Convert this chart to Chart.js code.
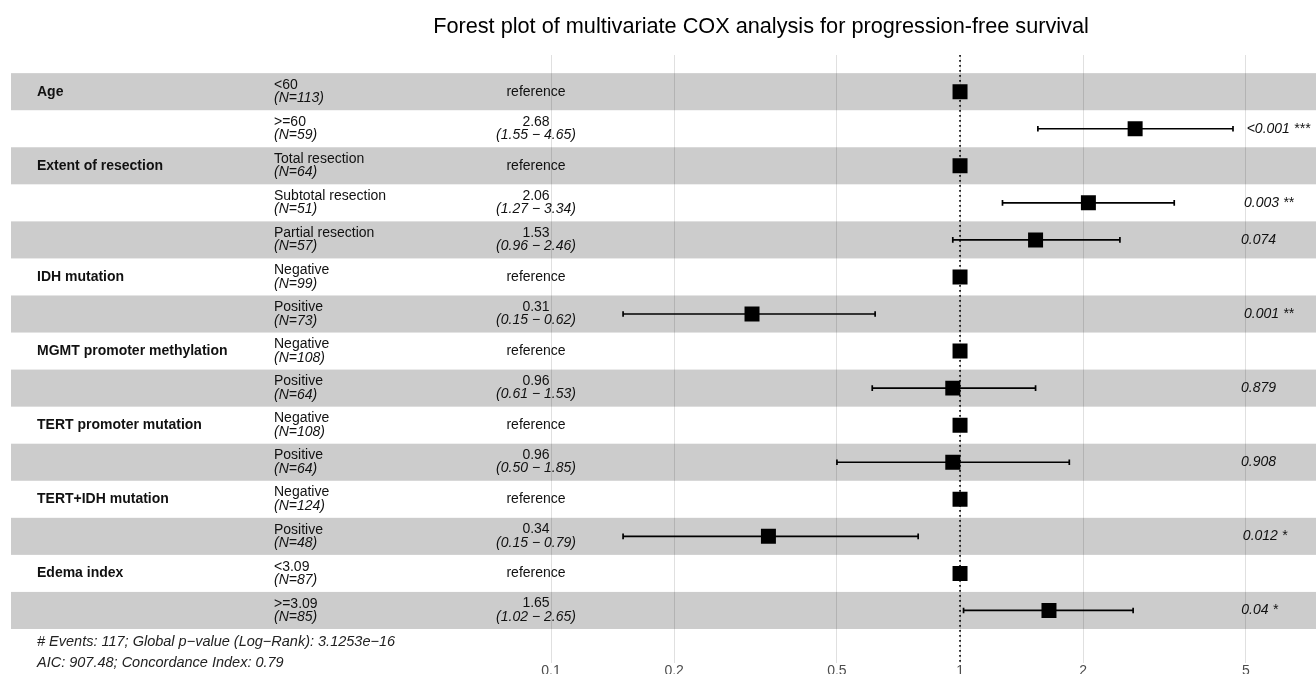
<!DOCTYPE html>
<html><head><meta charset="utf-8">
<script src="https://cdn.jsdelivr.net/npm/chart.js@4.4.1/dist/chart.umd.min.js"></script>
<style>
html,body{margin:0;padding:0;overflow:hidden;background:#fff;}
#wrap{position:relative;width:1316px;height:700px;}
canvas{display:block;}
</style></head><body>
<div id="wrap"><canvas id="c" width="1316" height="700"></canvas></div>
<script>
// ---------- data ----------
const chartTitle = "Forest plot of multivariate COX analysis for progression-free survival";
const variables = ["Age","","Extent of resection","","","IDH mutation","","MGMT promoter methylation","","TERT promoter mutation","","TERT+IDH mutation","","Edema index",""];
const levels = ["<60",">=60","Total resection","Subtotal resection","Partial resection","Negative","Positive","Negative","Positive","Negative","Positive","Negative","Positive","<3.09",">=3.09"];
const counts = [113,59,64,51,57,99,73,108,64,108,64,124,48,87,85];
const hazardRatios = [1,2.68,1,2.06,1.53,1,0.31,1,0.96,1,0.96,1,0.34,1,1.65];
const ciLower = [null,1.55,null,1.27,0.96,null,0.15,null,0.61,null,0.50,null,0.15,null,1.02];
const ciUpper = [null,4.65,null,3.34,2.46,null,0.62,null,1.53,null,1.85,null,0.79,null,2.65];
const pValues = ["","<0.001 ***","","0.003 **","0.074","","0.001 **","","0.879","","0.908","","0.012 *","","0.04 *"];
const xTicks = [0.1,0.2,0.5,1,2,5];
const footnotes = ["# Events: 117; Global p\u2212value (Log\u2212Rank): 3.1253e\u221216","AIC: 907.48; Concordance Index: 0.79"];

// ---------- layout ----------
const FONT = "'Liberation Sans', Arial, Helvetica, sans-serif";
const X_MIN = 0.00478, X_MAX = 7.42;
const Y_MIN = -0.99, Y_MAX = 15.41;
const COL_VAR = 37, COL_LEVEL = 274, COL_HR = 536, COL_P = 1234;
const TITLE_X = 761, TITLE_Y = 27;
const BAND_COLOR = "#cccccc";
const TEXT_COLOR = "#111111";

const fmt = v => v.toFixed(2);

// ---------- datasets ----------
const datasets = [];
datasets.push({
  label: "HR",
  data: hazardRatios.map((v, i) => ({x: v, y: i})),
  pointStyle: "rect",
  pointRadius: 10.6,
  pointHoverRadius: 10.6,
  backgroundColor: "#000",
  borderColor: "#000",
  borderWidth: 0,
  showLine: false,
  order: 0
});
hazardRatios.forEach((v, i) => {
  if (ciLower[i] == null) return;
  datasets.push({
    label: "CI " + i,
    data: [{x: ciLower[i], y: i}, {x: ciUpper[i], y: i}],
    showLine: true,
    borderColor: "#000",
    borderWidth: 1.7,
    pointStyle: "line",
    rotation: 90,
    pointRadius: 2.8,
    pointBorderWidth: 1.7,
    pointBorderColor: "#000",
    order: 1
  });
});
datasets.push({
  label: "ref",
  data: [{x: 1, y: Y_MIN}, {x: 1, y: Y_MAX}],
  showLine: true,
  borderColor: "#000",
  borderWidth: 1.6,
  borderDash: [1.8, 3.2],
  pointRadius: 0,
  order: 2
});

// ---------- plugins ----------
const bandsPlugin = {
  id: "bands",
  beforeDraw(chart) {
    const {ctx, chartArea, scales} = chart;
    const ys = scales.y;
    ctx.save();
    ctx.fillStyle = BAND_COLOR;
    levels.forEach((_, i) => {
      if (i % 2 !== 0) return;
      const t = ys.getPixelForValue(i - 0.5), b = ys.getPixelForValue(i + 0.5);
      ctx.fillRect(chartArea.left, t, chartArea.right - chartArea.left, b - t);
    });
    ctx.restore();
  }
};

const textPlugin = {
  id: "texts",
  afterDraw(chart) {
    const {ctx, scales} = chart;
    const ys = scales.y;
    ctx.save();
    ctx.fillStyle = "#000";
    ctx.textBaseline = "middle";
    ctx.textAlign = "center";
    ctx.font = "21.7px " + FONT;
    ctx.fillText(chartTitle, TITLE_X, TITLE_Y);
    ctx.fillStyle = TEXT_COLOR;
    levels.forEach((lvl, i) => {
      const y = ys.getPixelForValue(i);
      if (variables[i]) {
        ctx.textAlign = "left";
        ctx.font = "bold 14px " + FONT;
        ctx.fillText(variables[i], COL_VAR, y);
      }
      ctx.textAlign = "left";
      ctx.font = "14px " + FONT;
      ctx.fillText(lvl, COL_LEVEL, y - 6.7);
      ctx.font = "italic 14px " + FONT;
      ctx.fillText("(N=" + counts[i] + ")", COL_LEVEL, y + 6.7);
      ctx.textAlign = "center";
      if (ciLower[i] == null) {
        ctx.font = "14px " + FONT;
        ctx.fillText("reference", COL_HR, y);
      } else {
        ctx.font = "14px " + FONT;
        ctx.fillText(fmt(hazardRatios[i]), COL_HR, y - 7);
        ctx.font = "italic 14px " + FONT;
        ctx.fillText("(" + fmt(ciLower[i]) + " \u2212 " + fmt(ciUpper[i]) + ")", COL_HR, y + 6.3);
      }
      if (pValues[i]) {
        ctx.font = "italic 14px " + FONT;
        ctx.textAlign = "left";
        const w = ctx.measureText(pValues[i]).width;
        ctx.fillText(pValues[i], COL_P + 0.2 * w, y);
      }
    });
    const last = ys.getPixelForValue(levels.length - 0.5);
    ctx.font = "italic 14.5px " + FONT;
    ctx.textAlign = "left";
    ctx.fillStyle = "#222";
    ctx.fillText(footnotes[0], COL_VAR, last + 12.5);
    ctx.fillText(footnotes[1], COL_VAR, last + 34);
    ctx.restore();
  }
};

new Chart(document.getElementById("c"), {
  type: "scatter",
  data: {datasets},
  plugins: [bandsPlugin, textPlugin],
  options: {
    responsive: false,
    animation: false,
    devicePixelRatio: 1,
    layout: {autoPadding: false, padding: {top: 55, left: 11, right: 0, bottom: 20.5}},
    plugins: {legend: {display: false}, tooltip: {enabled: false}, title: {display: false}},
    scales: {
      x: {
        type: "logarithmic",
        min: X_MIN, max: X_MAX,
        afterBuildTicks: s => { s.ticks = xTicks.map(v => ({value: v})); },
        ticks: {
          autoSkip: false, maxRotation: 0, padding: 0,
          color: "#4d4d4d",
          font: {family: FONT, size: 14},
          callback: v => String(v)
        },
        grid: {color: "rgba(0,0,0,0.12)", lineWidth: 1, drawTicks: false},
        border: {display: false}
      },
      y: {
        type: "linear", reverse: true, min: Y_MIN, max: Y_MAX,
        display: false, grid: {display: false}
      }
    }
  }
});
</script>
</body></html>
